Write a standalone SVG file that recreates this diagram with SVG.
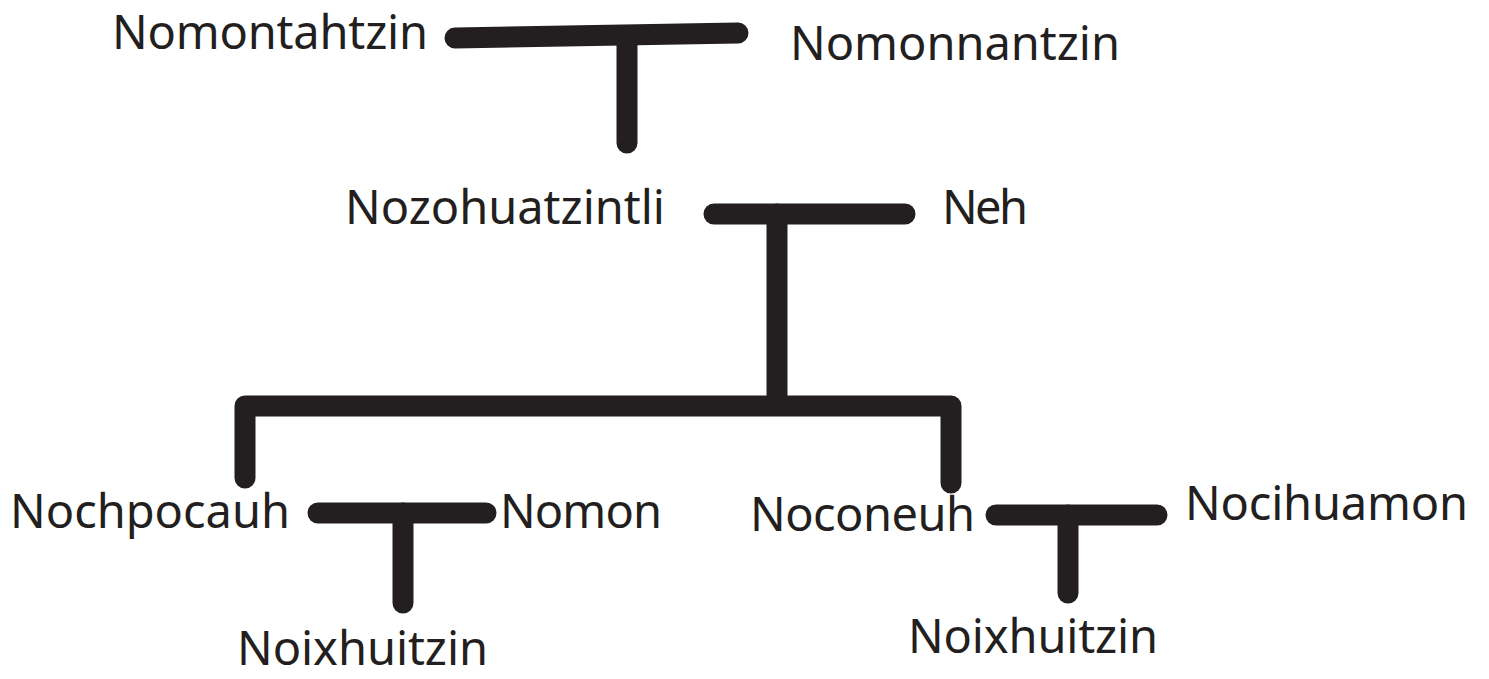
<svg xmlns="http://www.w3.org/2000/svg" width="1489" height="679" viewBox="0 0 1489 679">
<style>
text{font-family:"Noto Sans","Open Sans",sans-serif;font-size:47px;fill:#231f20}
.c{fill:none;stroke:#231f20;stroke-width:21;stroke-linecap:round;stroke-linejoin:round}
</style>
<rect width="1489" height="679" fill="#fff"/>
<g id="connectors">
<path class="c" d="M455 38 L738 33"/>
<path class="c" d="M627 36 V143"/>
<path class="c" d="M714 214 H905"/>
<path class="c" d="M777 214 V395"/>
<path class="c" d="M245 478 V406 H951 V483"/>
<path class="c" d="M318 513 H486"/>
<path class="c" d="M403 513 V603"/>
<path class="c" d="M996 515 H1157"/>
<path class="c" d="M1068 515 V593"/>
</g>
<g id="n1"><text x="112" y="49" textLength="316">Nomontahtzin</text></g>
<g id="n2"><text x="790" y="60" textLength="330">Nomonnantzin</text></g>
<g id="n3"><text x="345" y="224" textLength="320">Nozohuatzintli</text></g>
<g id="n4"><text x="942" y="224" textLength="86">Neh</text></g>
<g id="n5"><text x="10" y="528" textLength="280">Nochpocauh</text></g>
<g id="n6"><text x="500" y="528" textLength="162">Nomon</text></g>
<g id="n7"><text x="237" y="665" textLength="251">Noixhuitzin</text></g>
<g id="n8"><text x="750" y="531" textLength="225">Noconeuh</text></g>
<g id="n9"><text x="1185" y="520" textLength="283">Nocihuamon</text></g>
<g id="n10"><text x="908" y="653" textLength="250">Noixhuitzin</text></g>
</svg>
